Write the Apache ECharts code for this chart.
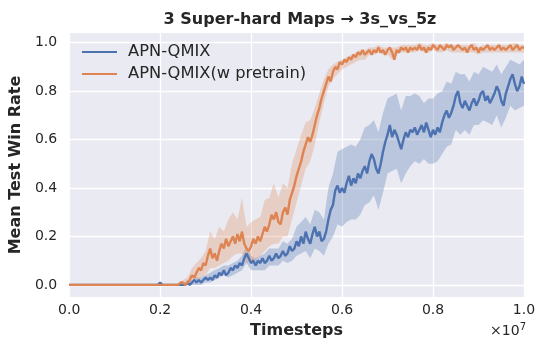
<!DOCTYPE html>
<html>
<head>
<meta charset="utf-8">
<script src="https://cdn.jsdelivr.net/npm/echarts@6/dist/echarts.min.js"></script>
<style>
  html, body { margin: 0; padding: 0; background: #fff; }
  #chart { width: 548px; height: 355px; }
</style>
</head>
<body>
<div id="chart"></div>
<script>
// mean curves, one value every 5e4 timesteps (0 .. 1e7)
const meanQmix = [
  0,0,0,0,0,0,0,0,0,0, 0,0,0,0,0,0,0,0,0,0, 0,0,0,0,0,0,0,0,0,0, 0,0,0,0,0,0,0,0,0,0,
  0.01,0,0,0,0,0,0,0,0,0,
  0,0.00,0.01,0.00,0.01,0.02,0.01,0.02,0.01,0.02,
  0.03,0.02,0.03,0.02,0.04,0.03,0.05,0.04,0.06,0.04,
  0.05,0.07,0.06,0.08,0.07,0.09,0.08,0.11,0.13,0.11,
  0.09,0.10,0.08,0.10,0.09,0.11,0.09,0.10,0.12,0.10,
  0.11,0.13,0.11,0.12,0.14,0.12,0.13,0.16,0.14,0.15,
  0.18,0.16,0.20,0.17,0.22,0.19,0.17,0.21,0.24,0.20,
  0.22,0.18,0.19,0.22,0.27,0.31,0.33,0.39,0.41,0.38,
  0.40,0.38,0.42,0.45,0.41,0.44,0.42,0.46,0.44,0.47,
  0.49,0.46,0.51,0.54,0.52,0.48,0.46,0.50,0.55,0.59,
  0.62,0.66,0.61,0.64,0.62,0.59,0.56,0.60,0.63,0.61,
  0.64,0.63,0.65,0.62,0.64,0.66,0.63,0.67,0.64,0.61,
  0.64,0.62,0.65,0.63,0.67,0.70,0.72,0.69,0.71,0.74,
  0.78,0.80,0.75,0.73,0.76,0.74,0.72,0.75,0.77,0.74,
  0.76,0.79,0.80,0.76,0.78,0.75,0.77,0.79,0.82,0.80,
  0.76,0.74,0.79,0.82,0.85,0.87,0.83,0.80,0.82,0.86,
  0.83
];
const meanPretrain = [
  0,0,0,0,0,0,0,0,0,0, 0,0,0,0,0,0,0,0,0,0, 0,0,0,0,0,0,0,0,0,0, 0,0,0,0,0,0,0,0,0,0,
  0,0,0,0,0,0,0,0,0,0.01,
  0.01,0.00,0.01,0.02,0.04,0.03,0.05,0.07,0.06,0.09,
  0.08,0.12,0.15,0.11,0.13,0.10,0.14,0.17,0.15,0.19,
  0.16,0.18,0.20,0.17,0.21,0.18,0.22,0.17,0.15,0.14,
  0.16,0.19,0.17,0.20,0.18,0.21,0.24,0.22,0.25,0.29,
  0.27,0.30,0.26,0.25,0.30,0.32,0.29,0.35,0.38,0.41,
  0.45,0.48,0.51,0.55,0.58,0.61,0.59,0.62,0.66,0.70,
  0.73,0.77,0.80,0.83,0.86,0.84,0.88,0.90,0.89,0.92,
  0.91,0.93,0.92,0.94,0.93,0.95,0.94,0.96,0.95,0.97,
  0.95,0.96,0.97,0.95,0.97,0.96,0.98,0.96,0.97,0.95,
  0.97,0.98,0.96,0.93,0.97,0.96,0.98,0.97,0.98,0.96,
  0.98,0.97,0.98,0.97,0.99,0.97,0.98,0.96,0.98,0.97,
  0.99,0.98,0.97,0.99,0.98,0.97,0.99,0.98,0.99,0.97,
  0.98,0.99,0.98,0.97,0.98,0.96,0.98,0.99,0.97,0.98,
  0.96,0.98,0.97,0.98,0.99,0.97,0.98,0.97,0.98,0.99,
  0.97,0.98,0.97,0.98,0.99,0.97,0.98,0.99,0.97,0.98,
  0.98
];

// confidence bands, one value every 1e5 timesteps
const qmixLow = [
  0,0,0,0,0,0,0,0,0,0, 0,0,0,0,0,0,0,0,0,0, 0,0,0,0,0,0,
  0.00,0.00,0.00,0.00,0.01,0.01,0.02,0.03,0.04,0.03,0.04,0.05,0.06,0.09,
  0.06,0.06,0.06,0.06,0.08,0.08,0.08,0.10,0.09,0.10,
  0.12,0.13,0.14,0.11,0.15,0.14,0.12,0.17,0.20,0.25,
  0.24,0.26,0.27,0.27,0.29,0.33,0.34,0.37,0.31,0.38,
  0.46,0.47,0.48,0.42,0.46,0.49,0.51,0.50,0.52,0.50,
  0.50,0.51,0.54,0.57,0.58,0.64,0.62,0.64,0.62,0.66,
  0.66,0.68,0.67,0.66,0.70,0.65,0.69,0.74,0.72,0.73,
  0.74
];
const qmixHigh = [
  0,0,0,0,0,0,0,0,0,0, 0,0,0,0,0,0,0,0,0,0, 0.01,0,0,0,0,0,
  0.02,0.02,0.03,0.03,0.04,0.05,0.06,0.07,0.08,0.08,0.09,0.10,0.12,0.16,
  0.12,0.11,0.12,0.13,0.15,0.15,0.15,0.18,0.17,0.19,
  0.24,0.26,0.28,0.25,0.31,0.30,0.27,0.40,0.46,0.55,
  0.56,0.57,0.58,0.57,0.60,0.65,0.66,0.68,0.63,0.71,
  0.77,0.78,0.79,0.72,0.78,0.78,0.79,0.78,0.75,0.77,
  0.77,0.79,0.80,0.84,0.83,0.88,0.87,0.87,0.84,0.88,
  0.87,0.90,0.89,0.88,0.91,0.87,0.90,0.93,0.92,0.91,
  0.93
];
const pretrainLow = [
  0,0,0,0,0,0,0,0,0,0, 0,0,0,0,0,0,0,0,0,0, 0,0,0,0,0,0,
  0.00,0.01,0.02,0.03,0.04,0.07,0.07,0.08,0.09,0.10,0.12,0.13,0.13,0.09,
  0.10,0.10,0.12,0.14,0.16,0.17,0.17,0.20,0.20,0.27,
  0.34,0.41,0.48,0.51,0.58,0.67,0.75,0.82,0.85,0.87,
  0.89,0.90,0.91,0.92,0.93,0.93,0.95,0.95,0.96,0.95,
  0.95,0.93,0.95,0.96,0.96,0.96,0.96,0.97,0.96,0.96,
  0.97,0.96,0.96,0.97,0.96,0.96,0.96,0.96,0.96,0.96,
  0.95,0.96,0.96,0.96,0.96,0.96,0.96,0.96,0.96,0.96,
  0.96
];
const pretrainHigh = [
  0,0,0,0,0,0,0,0,0,0, 0,0,0,0,0,0,0,0,0,0, 0,0,0,0,0,0.02,
  0.03,0.07,0.09,0.11,0.14,0.22,0.19,0.24,0.22,0.27,0.30,0.27,0.36,0.24,
  0.26,0.27,0.28,0.35,0.36,0.42,0.36,0.42,0.40,0.50,
  0.56,0.62,0.67,0.68,0.73,0.79,0.85,0.89,0.91,0.92,
  0.93,0.94,0.95,0.96,0.97,0.97,0.98,0.98,0.99,0.98,
  0.98,0.98,0.98,0.99,0.99,0.99,0.99,1.00,0.99,0.99,
  1.00,0.99,0.99,1.00,0.99,0.99,0.99,0.99,0.99,1.00,
  0.98,0.99,0.99,0.99,0.99,0.99,0.99,0.99,1.00,0.99,
  0.99
];

const yTicks = [0, 0.2, 0.4, 0.6, 0.8, 1.0];
const seriesNames = ["APN-QMIX", "APN-QMIX(w pretrain)"];
const colors = ["#4c72b0", "#dd8452"];
const bandColors = ["rgba(76,114,176,0.3)", "rgba(221,132,82,0.28)"];

const meanSteps = meanQmix.map((_, i) => i * 5e4);
const bandSteps = qmixLow.map((_, i) => i * 1e5);

const pair = (steps, vals) => vals.map((v, i) => [steps[i], v]);

// shaded band drawn as one polygon through the axis scales
function band(lo, hi, color) {
  return {
    type: "custom", silent: true, z: 1, clip: true,
    data: bandSteps.map((t, i) => [t, lo[i], hi[i]]),
    encode: {x: 0, y: [1, 2]},
    renderItem(params, api) {
      if (params.dataIndex !== 0) return null
      const top = bandSteps.map((t, i) => api.coord([t, hi[i]]))
      const bottom = bandSteps.map((t, i) => api.coord([t, lo[i]])).reverse()
      return {type: "polygon", shape: {points: top.concat(bottom)}, style: {fill: color}}
    },
  }
}

const font = "DejaVu Sans";
const ink = "#262626";
const chart = echarts.init(document.getElementById("chart"), null, {renderer: "canvas"});

chart.setOption({
  animation: false,
  backgroundColor: "#ffffff",
  textStyle: {fontFamily: font},
  title: {
    text: "3 Super-hard Maps \u2192 3s_vs_5z",
    left: 295, top: 7, textAlign: "center",
    textStyle: {fontFamily: font, fontSize: 16, fontWeight: "bold", color: ink},
  },
  legend: {
    data: seriesNames.map(n => ({name: n, icon: "rect"})),
    orient: "vertical",
    left: 77, top: 39,
    itemWidth: 35, itemHeight: 2.2, itemGap: 6,
    textStyle: {fontFamily: font, fontSize: 16.3, color: ink, padding: [0, 0, 0, 6]},
  },
  grid: {left: 66, right: 24, top: 33, bottom: 58, show: true, backgroundColor: "#eaeaf2", borderWidth: 0},
  xAxis: {
    type: "value", min: 0, max: 1e7, interval: 2e6,
    name: "Timesteps", nameLocation: "middle", nameGap: 26,
    nameTextStyle: {fontFamily: font, fontSize: 16, fontWeight: "bold", color: ink},
    axisLine: {show: false}, axisTick: {show: false},
    axisLabel: {fontFamily: font, fontSize: 14, color: ink, margin: 6,
      formatter: v => (v / 1e7).toFixed(1)},
    splitLine: {show: true, lineStyle: {color: "#ffffff", width: 1.3}},
  },
  yAxis: {
    type: "value", min: -0.05, max: 1.04,
    name: "Mean Test Win Rate", nameLocation: "middle", nameGap: 37, nameRotate: 90,
    nameTextStyle: {fontFamily: font, fontSize: 16, fontWeight: "bold", color: ink},
    axisLine: {show: false},
    axisTick: {show: false, customValues: yTicks},
    axisLabel: {fontFamily: font, fontSize: 14, color: ink, margin: 12,
      customValues: yTicks, formatter: v => v.toFixed(1)},
    splitLine: {show: true, lineStyle: {color: "#ffffff", width: 1.3}},
  },
  graphic: [{
    type: "text", right: 22, top: 322,
    style: {
      text: "\u00d710{s|7}",
      rich: {s: {fontSize: 10, verticalAlign: "top", padding: [0, 0, 9, 0], fontFamily: font, fill: ink}},
      fontFamily: font, fontSize: 14, fill: ink,
    },
  }],
  series: [
    band(qmixLow, qmixHigh, bandColors[0]),
    {
      name: seriesNames[0], type: "line", data: pair(meanSteps, meanQmix),
      symbol: "none", lineStyle: {color: colors[0], width: 2.4}, itemStyle: {color: colors[0]}, z: 3,
    },
    band(pretrainLow, pretrainHigh, bandColors[1]),
    {
      name: seriesNames[1], type: "line", data: pair(meanSteps, meanPretrain),
      symbol: "none", lineStyle: {color: colors[1], width: 2.4}, itemStyle: {color: colors[1]}, z: 3,
    },
  ],
});
</script>
</body>
</html>
